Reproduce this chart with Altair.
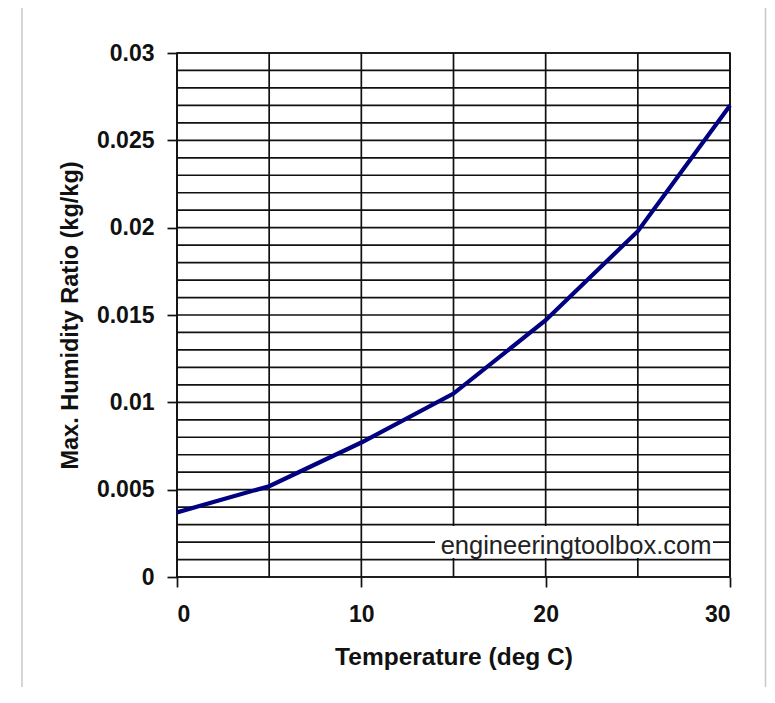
import altair as alt
import pandas as pd

# Data
temperature = [0, 5, 10, 15, 20, 25, 30]
humidity_ratio = [0.0037, 0.0052, 0.0077, 0.0105, 0.0147, 0.0198, 0.0270]

x_grid = [0, 5, 10, 15, 20, 25, 30]
y_grid = [round(i * 0.001, 3) for i in range(31)]
x_ticks = [0, 10, 20, 30]
y_ticks = [0, 0.005, 0.01, 0.015, 0.02, 0.025, 0.03]

W, H = 553, 524
FONT = "Liberation Sans"

df = pd.DataFrame({"t": temperature, "w": humidity_ratio})
xs = alt.Scale(domain=[0, 30], nice=False, zero=False)
ys = alt.Scale(domain=[0, 0.03], nice=False, zero=False)

common = dict(
    grid=False,
    domain=False,
    tickSize=10,
    tickColor="#111",
    tickWidth=1.7,
    labelFont=FONT,
    labelFontSize=23,
    labelFontWeight="bold",
    labelColor="#111",
    titleFont=FONT,
    titleFontWeight="bold",
    titleColor="#111",
)
x_axis = alt.Axis(values=x_ticks, title="Temperature (deg C)",
                  labelPadding=16, titlePadding=19, titleFontSize=24.5, **common)
y_axis = alt.Axis(values=y_ticks, format="~f", title="Max. Humidity Ratio (kg/kg)",
                  labelPadding=13, titlePadding=14, titleFontSize=23.5, **common)

xgrid = alt.Chart(pd.DataFrame({"t": x_grid})).mark_rule(
    color="#111", strokeWidth=1.7
).encode(x=alt.X("t:Q", scale=xs, axis=x_axis))

ygrid = alt.Chart(pd.DataFrame({"w": y_grid})).mark_rule(
    color="#111", strokeWidth=1.7
).encode(y=alt.Y("w:Q", scale=ys, axis=y_axis))

line = alt.Chart(df).mark_line(color="#000080", strokeWidth=4.2).encode(
    x=alt.X("t:Q", scale=xs, axis=x_axis),
    y=alt.Y("w:Q", scale=ys, axis=y_axis),
)

dummy = pd.DataFrame({"a": [0]})
wm_box = alt.Chart(dummy).mark_rect(color="white").encode(
    x=alt.value(258), x2=alt.value(536), y=alt.value(473), y2=alt.value(505)
)
wm_text = alt.Chart(dummy).mark_text(
    text="engineeringtoolbox.com", font=FONT, fontSize=25.5, color="#222",
    align="center", baseline="middle"
).encode(x=alt.value(399), y=alt.value(493))

border_l = alt.Chart(dummy).mark_rule(color="#c8c8c8", strokeWidth=1.5, clip=False).encode(
    x=alt.value(-155), y=alt.value(-47), y2=alt.value(700)
)
border_t = alt.Chart(dummy).mark_rule(color="#c8c8c8", strokeWidth=1.5, clip=False).encode(
    x=alt.value(-155), x2=alt.value(589), y=alt.value(-47)
)
border_r = alt.Chart(dummy).mark_rule(color="#c8c8c8", strokeWidth=1.5, clip=False).encode(
    x=alt.value(588.5), y=alt.value(-47), y2=alt.value(700)
)

chart = alt.layer(
    xgrid, ygrid, wm_box, wm_text, line, border_l, border_t, border_r
).properties(
    width=W,
    height=H,
    autosize=alt.AutoSizeParams(type="none"),
    padding={"left": 169, "top": 45, "right": 37, "bottom": 110},
    background="white",
).configure_view(stroke="#111", strokeWidth=1.7)

chart.save("out.html", embed_options={"renderer": "svg", "actions": False})
